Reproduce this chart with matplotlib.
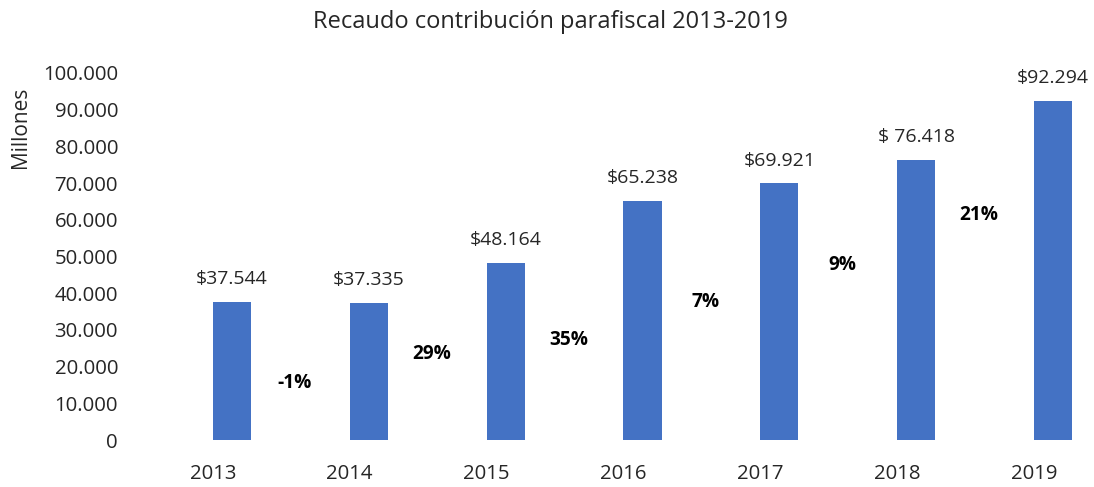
import matplotlib
matplotlib.use("Agg")
import matplotlib.pyplot as plt
from matplotlib.ticker import FuncFormatter

years = ["2013", "2014", "2015", "2016", "2017", "2018", "2019"]
values = [37544, 37335, 48164, 65238, 69921, 76418, 92294]
value_labels = ["$37.544", "$37.335", "$48.164", "$65.238", "$69.921", "$ 76.418", "$92.294"]
growth_labels = ["-1%", "29%", "35%", "7%", "9%", "21%"]
growth_y = [15500, 23400, 27200, 37600, 47700, 61300]

plt.rcParams['font.family'] = ['Open Sans', 'DejaVu Sans']
TXT = "#262626"

fig = plt.figure(figsize=(10.94, 4.87), dpi=100)
ax = fig.add_axes([150/1094, 47/487, 944/1094, 367/487])

x = list(range(len(years)))
bar_shift = 0.14
bx = [xi + bar_shift for xi in x]
ax.bar(bx, values, width=0.28, color="#4472C4", zorder=2)

for xi, v, lab in zip(bx, values, value_labels):
    ax.annotate(lab, (xi, v), xytext=(0, 10), textcoords="offset points",
                ha="center", va="bottom", fontsize=14, color=TXT)

for i, (g, gy) in enumerate(zip(growth_labels, growth_y)):
    ax.text(i + 0.6, gy, g, ha="center", va="center", fontsize=13.7,
            fontweight="bold", color="black")

ax.set_xlim(-0.46, 6.44)
ax.set_ylim(0, 100000)
ax.set_yticks(range(0, 100001, 10000))
ax.yaxis.set_major_formatter(FuncFormatter(lambda v, p: f"{int(v):,}".replace(",", ".")))
ax.set_xticks(x)
ax.set_xticklabels(years)
ax.tick_params(axis="both", length=0, labelsize=14.7, colors=TXT)
ax.tick_params(axis="x", pad=17)
ax.tick_params(axis="y", pad=23)
for s in ax.spines.values():
    s.set_visible(False)

fig.text(21/1094, (487-127)/487, "Millones", rotation=90, ha="center", va="center",
         fontsize=15, color=TXT)
fig.text(550/1094, (487-22)/487, "Recaudo contribución parafiscal 2013-2019", ha="center",
         va="center", fontsize=17, color=TXT)

fig.savefig("out.png", dpi=100)
